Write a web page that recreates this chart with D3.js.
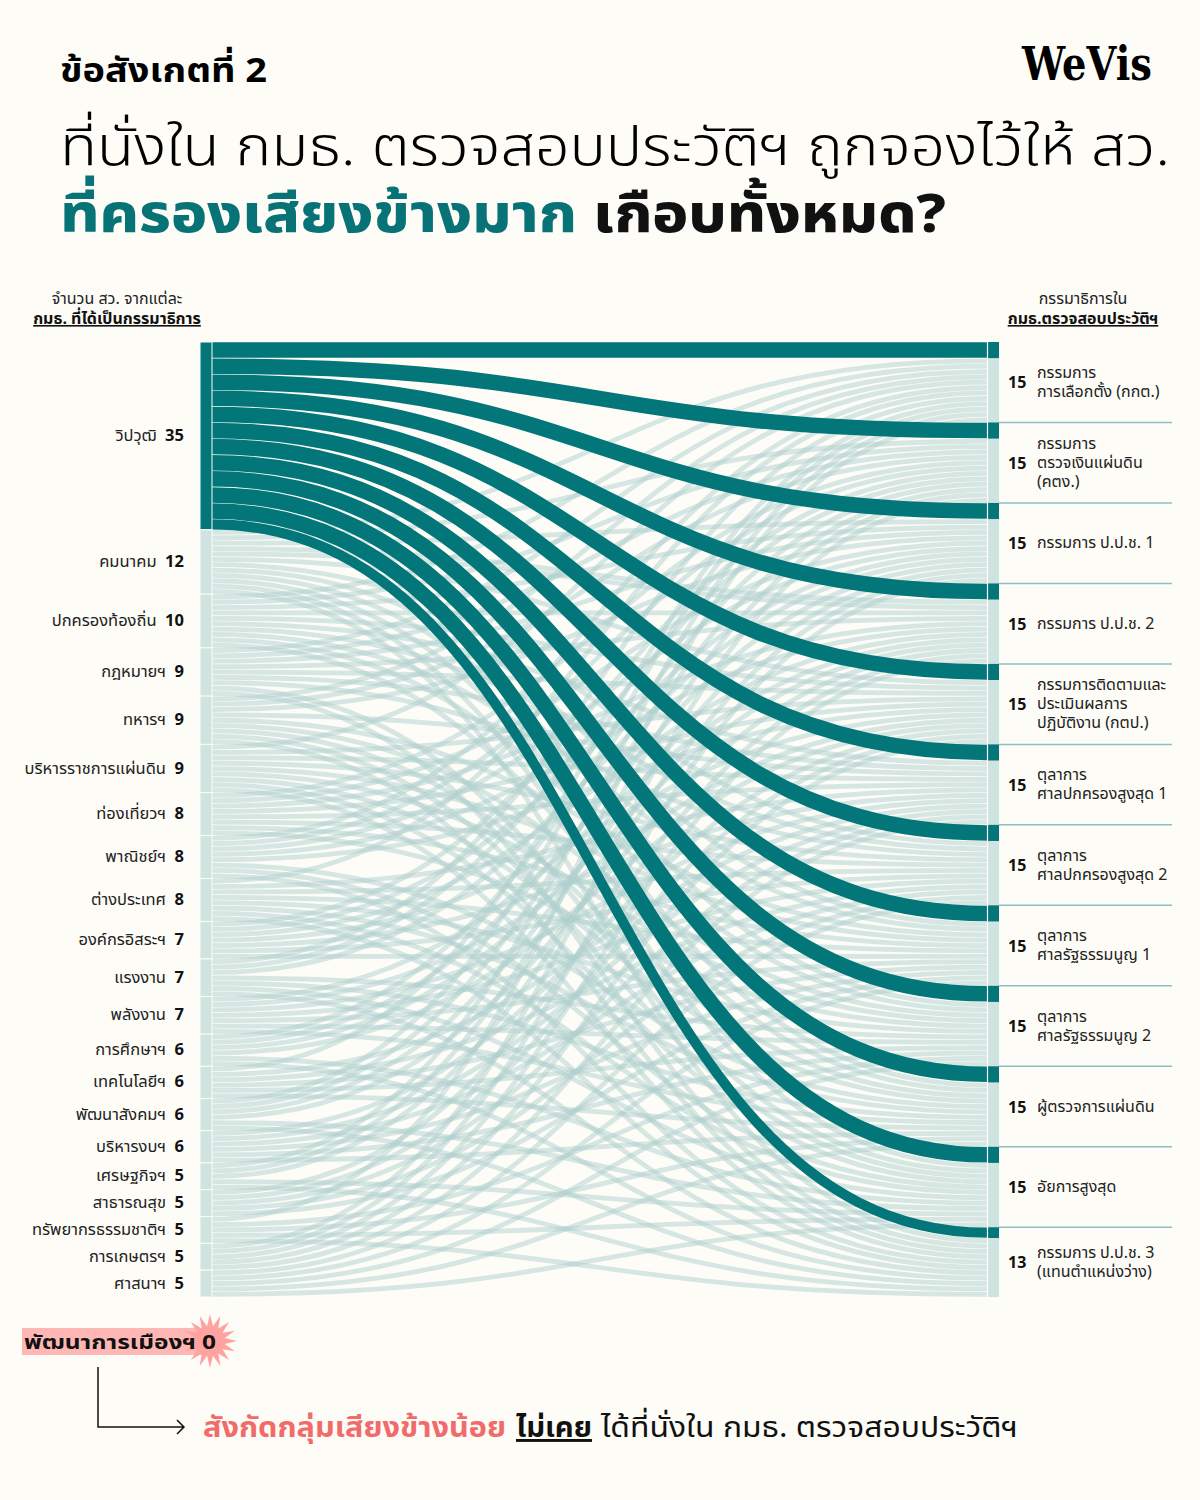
<!DOCTYPE html>
<html>
<head>
<meta charset="utf-8">
<script src="https://cdn.jsdelivr.net/npm/d3@7"></script>
<style>
  body { margin: 0; background: #fdfcf7; }
  svg { display: block; font-family: "Noto Sans Thai", "Noto Sans", sans-serif; }
</style>
</head>
<body>
<script>
// senate committees (source) -> vetting committee seats (target)
var width = 1200;
var height = 1500;

var groups = ['วิปวุฒิ', 'คมนาคม', 'ปกครองท้องถิ่น', 'กฎหมายฯ', 'ทหารฯ', 'บริหารราชการแผ่นดิน',
  'ท่องเที่ยวฯ', 'พาณิชย์ฯ', 'ต่างประเทศ', 'องค์กรอิสระฯ', 'แรงงาน', 'พลังงาน',
  'การศึกษาฯ', 'เทคโนโลยีฯ', 'พัฒนาสังคมฯ', 'บริหารงบฯ', 'เศรษฐกิจฯ', 'สาธารณสุข',
  'ทรัพยากรธรรมชาติฯ', 'การเกษตรฯ', 'ศาสนาฯ'];
var groupCounts = [35, 12, 10, 9, 9, 9, 8, 8, 8, 7, 7, 7, 6, 6, 6, 6, 5, 5, 5, 5, 5];

var committees = [
  ['กรรมการ', 'การเลือกตั้ง (กกต.)'],
  ['กรรมการ', 'ตรวจเงินแผ่นดิน', '(คตง.)'],
  ['กรรมการ ป.ป.ช. 1'],
  ['กรรมการ ป.ป.ช. 2'],
  ['กรรมการติดตามและ', 'ประเมินผลการ', 'ปฏิบัติงาน (กตป.)'],
  ['ตุลาการ', 'ศาลปกครองสูงสุด 1'],
  ['ตุลาการ', 'ศาลปกครองสูงสุด 2'],
  ['ตุลาการ', 'ศาลรัฐธรรมนูญ 1'],
  ['ตุลาการ', 'ศาลรัฐธรรมนูญ 2'],
  ['ผู้ตรวจการแผ่นดิน'],
  ['อัยการสูงสุด'],
  ['กรรมการ ป.ป.ช. 3', '(แทนตำแหน่งว่าง)']
];
var committeeCounts = [15, 15, 15, 15, 15, 15, 15, 15, 15, 15, 15, 13];

// seats from วิปวุฒิ in each committee
var whipSeats = [3, 3, 3, 3, 3, 3, 3, 3, 3, 3, 3, 2];

// seats from the other senate committees (rows follow groups[1..])
var seatMatrix = [
  [1, 1, 1, 2, 1, 0, 1, 1, 1, 1, 1, 1],
  [1, 1, 1, 1, 1, 1, 1, 1, 1, 1, 0, 0],
  [1, 1, 1, 1, 1, 1, 1, 0, 0, 0, 1, 1],
  [1, 1, 1, 0, 0, 1, 0, 1, 1, 1, 1, 1],
  [1, 0, 0, 0, 1, 1, 1, 1, 1, 1, 1, 1],
  [0, 1, 1, 1, 1, 1, 1, 1, 1, 0, 0, 0],
  [1, 1, 1, 1, 1, 0, 0, 0, 0, 1, 1, 1],
  [1, 0, 0, 0, 0, 1, 1, 1, 1, 1, 1, 1],
  [0, 1, 1, 1, 1, 1, 1, 1, 0, 0, 0, 0],
  [1, 1, 1, 0, 0, 0, 0, 0, 1, 1, 1, 1],
  [0, 0, 0, 1, 1, 1, 1, 1, 1, 1, 0, 0],
  [0, 1, 1, 1, 1, 0, 0, 0, 0, 0, 1, 1],
  [1, 0, 0, 0, 0, 1, 1, 1, 1, 1, 0, 0],
  [1, 1, 1, 1, 0, 0, 0, 0, 0, 0, 1, 1],
  [0, 0, 0, 0, 1, 1, 1, 1, 1, 1, 0, 0],
  [1, 1, 1, 0, 0, 0, 0, 0, 0, 0, 1, 1],
  [0, 0, 0, 1, 1, 1, 1, 1, 0, 0, 0, 0],
  [1, 0, 0, 0, 0, 0, 0, 0, 1, 1, 1, 1],
  [0, 1, 1, 1, 1, 1, 0, 0, 0, 0, 0, 0],
  [0, 0, 0, 0, 0, 0, 1, 1, 1, 1, 1, 0]
];

var dark = '#03767a';
var light = '#cfe3e1';

var svg = d3.select('body').append('svg')
  .attr('width', width)
  .attr('height', height);

svg.append('rect').attr('width', width).attr('height', height).attr('fill', '#fdfcf7');

// ---------- titles
svg.append('text').attr('x', 60).attr('y', 82)
  .attr('font-size', 34).attr('font-weight', 700)
  .attr('textLength', 207).attr('lengthAdjust', 'spacingAndGlyphs')
  .text('ข้อสังเกตที่ 2');

svg.append('text').attr('x', 1152).attr('y', 80)
  .attr('text-anchor', 'end')
  .attr('font-family', '"DejaVu Serif", serif')
  .attr('font-size', 46).attr('font-weight', 900)
  .attr('textLength', 130).attr('lengthAdjust', 'spacingAndGlyphs')
  .text('WeVis');

svg.append('text').attr('x', 60).attr('y', 165)
  .attr('font-size', 54).attr('font-weight', 300)
  .attr('textLength', 1110).attr('lengthAdjust', 'spacingAndGlyphs')
  .text('ที่นั่งใน กมธ. ตรวจสอบประวัติฯ ถูกจองไว้ให้ สว.');

svg.append('text').attr('x', 60).attr('y', 232)
  .attr('font-size', 54).attr('font-weight', 800).attr('fill', '#087377')
  .attr('textLength', 517).attr('lengthAdjust', 'spacingAndGlyphs')
  .text('ที่ครองเสียงข้างมาก');
svg.append('text').attr('x', 593).attr('y', 232)
  .attr('font-size', 54).attr('font-weight', 800).attr('fill', '#111')
  .attr('textLength', 353).attr('lengthAdjust', 'spacingAndGlyphs')
  .text('เกือบทั้งหมด?');

// column headers
var heads = [
  {x: 117, a: 'จำนวน สว. จากแต่ละ', b: 'กมธ. ที่ได้เป็นกรรมาธิการ'},
  {x: 1083, a: 'กรรมาธิการใน', b: 'กมธ.ตรวจสอบประวัติฯ'}
];
heads.forEach(function(h) {
  svg.append('text').attr('x', h.x).attr('y', 304).attr('text-anchor', 'middle')
    .attr('font-size', 16).attr('fill', '#222').text(h.a);
  svg.append('text').attr('x', h.x).attr('y', 324).attr('text-anchor', 'middle')
    .attr('font-size', 16).attr('font-weight', 700).attr('fill', '#111')
    .attr('text-decoration', 'underline').text(h.b);
});

// ---------- layout
var total = d3.sum(groupCounts);
var y = d3.scaleLinear().domain([0, total]).range([342, 1297]);
var k = y(1) - y(0);
var x0 = 212, x1 = 987;

var srcStart = [0], tgtStart = [0];
groupCounts.forEach(function(c, i) { srcStart.push(srcStart[i] + c); });
committeeCounts.forEach(function(c, i) { tgtStart.push(tgtStart[i] + c); });

var links = [];
groups.forEach(function(g, i) {
  committees.forEach(function(c, j) {
    var v = i === 0 ? whipSeats[j] : seatMatrix[i - 1][j];
    if (v > 0) links.push({source: i, target: j, value: v});
  });
});

var srcOff = srcStart.slice(), tgtOff = tgtStart.slice();
links.forEach(function(l) {
  l.s = srcOff[l.source]; srcOff[l.source] += l.value;
  l.t = tgtOff[l.target]; tgtOff[l.target] += l.value;
});

var linkGen = d3.linkHorizontal().x(function(d) { return d[0]; }).y(function(d) { return d[1]; });

// light links, one strand per seat
var units = [];
links.filter(function(l) { return l.source > 0; }).forEach(function(l) {
  for (var u = 0; u < l.value; u++) units.push({s: l.s + u + 0.5, t: l.t + u + 0.5});
});

svg.append('g').selectAll('path')
  .data(units)
  .enter().append('path')
  .attr('d', function(d) { return linkGen({source: [x0, y(d.s)], target: [x1, y(d.t)]}); })
  .attr('fill', 'none')
  .attr('stroke', '#afd0ce')
  .attr('stroke-opacity', 0.5)
  .attr('stroke-width', k - 0.6);

// dark links from วิปวุฒิ
svg.append('g').selectAll('path')
  .data(links.filter(function(l) { return l.source === 0; }))
  .enter().append('path')
  .attr('d', function(l) {
    var ym0 = y(l.s + l.value / 2), ym1 = y(l.t + l.value / 2);
    return linkGen({source: [x0 - 1, ym0], target: [x1, ym1]});
  })
  .attr('fill', 'none')
  .attr('stroke', dark)
  .attr('stroke-width', function(l) { return l.value * k - 0.6; });

// ---------- nodes
svg.append('g').selectAll('rect')
  .data(groupCounts)
  .enter().append('rect')
  .attr('x', 200).attr('width', 12)
  .attr('y', function(c, i) { return y(srcStart[i]); })
  .attr('height', function(c) { return c * k; })
  .attr('fill', function(c, i) { return i === 0 ? dark : light; })
  .attr('stroke', '#fdfcf7').attr('stroke-width', 1);

var rnodes = svg.append('g').selectAll('g')
  .data(committeeCounts)
  .enter().append('g');
rnodes.append('rect')
  .attr('x', 988).attr('width', 11)
  .attr('y', function(c, j) { return y(tgtStart[j]); })
  .attr('height', function(c) { return c * k; })
  .attr('fill', light);
rnodes.append('rect')
  .attr('x', 988).attr('width', 11)
  .attr('y', function(c, j) { return y(tgtStart[j]); })
  .attr('height', function(c, j) { return whipSeats[j] * k; })
  .attr('fill', dark);
svg.append('line').attr('x1', 987.5).attr('x2', 987.5)
  .attr('y1', y(0)).attr('y2', y(total))
  .attr('stroke', '#fff').attr('stroke-width', 1.2);

// separators on the right
svg.append('g').selectAll('line')
  .data(tgtStart.slice(1, -1))
  .enter().append('line')
  .attr('x1', 999).attr('x2', 1172)
  .attr('y1', function(d) { return y(d); })
  .attr('y2', function(d) { return y(d); })
  .attr('stroke', '#8ebfbe').attr('stroke-width', 1.5);

// ---------- labels
var lab = svg.append('g').selectAll('text')
  .data(groups)
  .enter().append('text')
  .attr('x', 184)
  .attr('y', function(g, i) { return y(srcStart[i] + groupCounts[i] / 2) + 5; })
  .attr('text-anchor', 'end')
  .attr('font-size', 16.5)
  .attr('fill', '#222');
lab.append('tspan').text(function(g) { return g + '\u00a0\u00a0'; });
lab.append('tspan').attr('font-weight', 700).attr('fill', '#111')
  .text(function(g, i) { return groupCounts[i]; });

committees.forEach(function(lines, j) {
  var cy = y(tgtStart[j] + committeeCounts[j] / 2);
  svg.append('text').attr('x', 1008).attr('y', cy + 6)
    .attr('font-size', 16).attr('font-weight', 700).attr('fill', '#111')
    .text(committeeCounts[j]);
  var t = svg.append('text').attr('font-size', 16).attr('fill', '#222');
  lines.forEach(function(s, n) {
    t.append('tspan').attr('x', 1037)
      .attr('y', cy + 5 + (n - (lines.length - 1) / 2) * 19)
      .text(s);
  });
});

// ---------- minority note
var burst = d3.range(32).map(function(i) {
  var a = i * Math.PI / 16, r = i % 2 ? 15 : 27;
  return [210 + r * Math.sin(a), 1341 - r * Math.cos(a)];
});
svg.append('rect').attr('x', 22).attr('y', 1328).attr('width', 192).attr('height', 27)
  .attr('fill', '#ffb7b5');
svg.append('polygon').attr('points', burst.map(function(p) { return p.join(','); }).join(' '))
  .attr('fill', '#ffa3a0');
svg.append('text').attr('x', 24).attr('y', 1349)
  .attr('font-size', 20).attr('font-weight', 700).attr('fill', '#111')
  .attr('textLength', 192).attr('lengthAdjust', 'spacingAndGlyphs')
  .text('พัฒนาการเมืองฯ 0');

svg.append('path').attr('d', 'M98,1367V1427H184M177,1420L184,1427L177,1434')
  .attr('fill', 'none').attr('stroke', '#111').attr('stroke-width', 1.5);

svg.append('text').attr('x', 203).attr('y', 1437)
  .attr('font-size', 29).attr('font-weight', 700).attr('fill', '#f26b6b')
  .attr('textLength', 303).attr('lengthAdjust', 'spacingAndGlyphs')
  .text('สังกัดกลุ่มเสียงข้างน้อย');
svg.append('text').attr('x', 516).attr('y', 1437)
  .attr('font-size', 29).attr('font-weight', 700).attr('fill', '#111')
  .attr('text-decoration', 'underline')
  .attr('textLength', 76).attr('lengthAdjust', 'spacingAndGlyphs')
  .text('ไม่เคย');
svg.append('text').attr('x', 601).attr('y', 1437)
  .attr('font-size', 29).attr('font-weight', 400).attr('fill', '#111')
  .attr('textLength', 417).attr('lengthAdjust', 'spacingAndGlyphs')
  .text('ได้ที่นั่งใน กมธ. ตรวจสอบประวัติฯ');
</script>
</body>
</html>
